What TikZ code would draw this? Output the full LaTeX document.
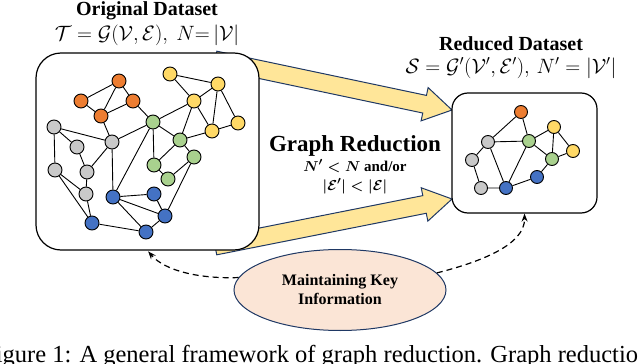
\documentclass[tikz,border=0pt]{standalone}
\usepackage{fontspec}
\setmainfont{Liberation Serif}
\usepackage{amsmath,amssymb}
\usetikzlibrary{positioning,shapes.geometric,calc,arrows.meta}
\definecolor{nodeorange}{HTML}{ED7D31}
\definecolor{nodeyellow}{HTML}{FFD966}
\definecolor{nodegreen}{HTML}{A9D18E}
\definecolor{nodegray}{HTML}{C9C9C9}
\definecolor{nodeblue}{HTML}{4472C4}
\definecolor{arrowfill}{HTML}{FFE699}
\definecolor{navy}{HTML}{1F3864}
\definecolor{peach}{HTML}{FBE5D6}
\pgfdeclarelayer{back}
\pgfdeclarelayer{edges}
\pgfsetlayers{back,edges,main}

% wide block arrow from #1 to #2
\newcommand{\fatarrow}[2]{%
  \coordinate (fathead) at ($(#2)!28pt!(#1)$);
  \filldraw[fill=arrowfill, draw=navy, line width=1pt, line join=miter]
    ($(#1)!9pt!90:(#2)$) -- ($(fathead)!9pt!90:(#2)$) -- ($(fathead)!17pt!90:(#2)$)
    -- (#2) -- ($(fathead)!17pt!-90:(#2)$) -- ($(fathead)!9pt!-90:(#2)$)
    -- ($(#1)!9pt!-90:(#2)$) -- cycle;}

\begin{document}
\begin{tikzpicture}[x=1pt, y=-1pt,
        vtx/.style={circle, draw, line width=0.9pt, minimum size=14pt, inner sep=0pt},
        svtx/.style={vtx, minimum size=13pt},
        link/.style={line width=0.9pt},
        box/.style={draw, line width=1.2pt, fill=white, inner sep=0pt},
        title/.style={font=\bfseries\fontsize{20}{24}\selectfont, inner sep=0pt},
        formula/.style={font=\fontsize{20}{24}\selectfont, inner sep=0pt},
        dasharrow/.style={dash pattern=on 6pt off 4pt, line width=1.2pt, -{Stealth[length=8pt,width=6pt]}}]
    \useasboundingbox (0,0) rectangle (638,364);

    % Reduction arrows and dataset boxes
    \begin{pgfonlayer}{back}
        \coordinate (upfrom) at (215,60);
        \coordinate (upto) at (452,110);
        \coordinate (lowfrom) at (215,246);
        \coordinate (lowto) at (452,199);
        \fatarrow{upfrom}{upto}
        \fatarrow{lowfrom}{lowto}
        \node[box, rounded corners=25pt, minimum width=223pt, minimum height=197pt] (orig) at (147.5,151.5) {};
        \node[box, rounded corners=16pt, minimum width=145pt, minimum height=120pt] (red) at (524.5,153) {};
    \end{pgfonlayer}

    % Original graph
    \node[vtx, fill=nodeorange] (o1) at (119,81) {};
    \node[vtx, fill=nodeorange] (o2) at (81,101) {};
    \node[vtx, fill=nodeorange] (o3) at (133,101) {};
    \node[vtx, fill=nodeorange] (o4) at (101,116) {};
    \node[vtx, fill=nodeyellow] (y1) at (170,74) {};
    \node[vtx, fill=nodeyellow] (y2) at (218,84) {};
    \node[vtx, fill=nodeyellow] (y3) at (194,101) {};
    \node[vtx, fill=nodeyellow] (y4) at (238,123) {};
    \node[vtx, fill=nodeyellow] (y5) at (212,131) {};
    \node[vtx, fill=nodegreen] (g1) at (153,122) {};
    \node[vtx, fill=nodegreen] (g2) at (180,140) {};
    \node[vtx, fill=nodegreen] (g3) at (194,157) {};
    \node[vtx, fill=nodegreen] (g4) at (154,165) {};
    \node[vtx, fill=nodegreen] (g5) at (168,179) {};
    \node[vtx, fill=nodegray] (a1) at (54,127) {};
    \node[vtx, fill=nodegray] (a2) at (112,142) {};
    \node[vtx, fill=nodegray] (a3) at (77,147) {};
    \node[vtx, fill=nodegray] (a4) at (55,170) {};
    \node[vtx, fill=nodegray] (a5) at (87,172) {};
    \node[vtx, fill=nodegray] (a6) at (86,194) {};
    \node[vtx, fill=nodeblue] (b1) at (113,197) {};
    \node[vtx, fill=nodeblue] (b2) at (154,194) {};
    \node[vtx, fill=nodeblue] (b3) at (165,216) {};
    \node[vtx, fill=nodeblue] (b4) at (92,223) {};
    \node[vtx, fill=nodeblue] (b5) at (146,232) {};

    % Reduced graph
    \node[svtx, fill=nodeorange] (ro) at (521,112) {};
    \node[svtx, fill=nodeyellow] (ry1) at (554,127) {};
    \node[svtx, fill=nodeyellow] (ry2) at (573,151) {};
    \node[svtx, fill=nodegreen] (rg1) at (529,141) {};
    \node[svtx, fill=nodegreen] (rg2) at (552,159) {};
    \node[svtx, fill=nodegray] (ra1) at (488,142) {};
    \node[svtx, fill=nodegray] (ra2) at (472,160) {};
    \node[svtx, fill=nodegray] (ra3) at (481,188) {};
    \node[svtx, fill=nodeblue] (rb1) at (537,177) {};
    \node[svtx, fill=nodeblue] (rb2) at (506,188) {};

    % Edges
    \begin{pgfonlayer}{edges}
        \draw[link] (o1) -- (o2) (o1) -- (o3) (o1) -- (o4) (o2) -- (o4) (o3) -- (o4)
            (o3) -- (g1) (o4) -- (a2);
        \draw[link] (y1) -- (y2) (y1) -- (y3) (y2) -- (y3) (y2) -- (y4) (y2) -- (y5)
            (y3) -- (y5) (y4) -- (y5) (y3) -- (g1) (y3) -- (g2) (y5) -- (g2);
        \draw[link] (g1) -- (g2) (g1) -- (a2) (g1) -- (b1) (g1) -- (g4) (g2) -- (g4)
            (g2) -- (g3) (g4) -- (g5) (g3) -- (g5) (g3) -- (b3);
        \draw[link] (a1) -- (a2) (a1) -- (a3) (a1) -- (a4) (a2) -- (a5) (a2) -- (b1)
            (a3) -- (a5) (a5) -- (a6) (a4) -- (a6) (a4) -- (b4) (a6) -- (b4);
        \draw[link] (b1) -- (b2) (b1) -- (b3) (b1) -- (b5) (b2) -- (b3) (b4) -- (b5)
            (b3) -- (b5);
        \draw[link] (ro) -- (ra1) (ro) -- (rg1) (ra1) -- (rg1) (ra1) -- (ra2) (ra1) -- (rb2)
            (ra2) -- (ra3) (ra3) -- (rb2) (rg1) -- (rb2) (rg1) -- (ry1) (rg1) -- (rg2)
            (ry1) -- (rg2) (ry1) -- (ry2) (ry2) -- (rg2) (rb1) -- (rb2) (rb1) -- (rg2);
    \end{pgfonlayer}

    % Titles
    \node[title] (origtitle) at (147,11) {Original Dataset};
    \node[formula, below=4pt of origtitle] (origformula) {$\mathcal{T} = \mathcal{G}(\mathcal{V},\mathcal{E}),\ N{=}\,|\mathcal{V}|$};
    \node[title] (redtitle) at (511,44) {Reduced Dataset};
    \node[formula, below=6pt of redtitle] (redformula) {$\mathcal{S} = \mathcal{G}'(\mathcal{V}',\mathcal{E}'),\, N' = |\mathcal{V}'|$};

    % Reduction label
    \node[font=\bfseries\fontsize{23}{28}\selectfont, inner sep=0pt] (reduction) at (355,146) {Graph Reduction};
    \node[font=\bfseries\boldmath\fontsize{15}{19}\selectfont, align=center, inner sep=0pt,
          below=3pt of reduction] (condition) {$N' < N$ and/or\\$|\mathcal{E}'| < |\mathcal{E}|$};

    % Key information
    \node[ellipse, draw=navy, fill=peach, line width=1pt, minimum width=212pt, minimum height=81pt,
          align=center, font=\bfseries\fontsize{16}{19}\selectfont] (keyinfo) at (340,290) {Maintaining Key\\Information};
    \draw[dasharrow, shorten >=1pt] (keyinfo.173) .. controls (200,279) and (165,271) .. (orig.south);
    \draw[dasharrow] (keyinfo.10) .. controls (480,262) and (525,245) .. (red.south);

    % Caption
    \node[anchor=base west, inner sep=0pt, font=\fontsize{24.5}{30}\selectfont] (caption) at (-18,362)
        {Figure 1: A general framework of graph reduction. Graph reduction};
\end{tikzpicture}
\end{document}
